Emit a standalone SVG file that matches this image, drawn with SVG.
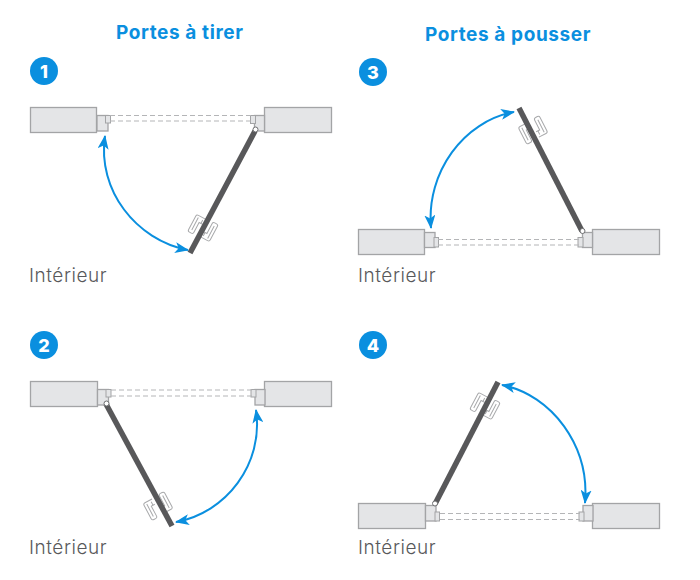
<svg xmlns="http://www.w3.org/2000/svg" xmlns:xlink="http://www.w3.org/1999/xlink" width="700" height="580" viewBox="0 0 700 580">
<style>
.title{font:700 19px Inter,"Liberation Sans",sans-serif;fill:#0a8fdf;letter-spacing:.6px}
.num{font:800 18px Inter,"Liberation Sans",sans-serif;fill:#fff;text-anchor:middle}
.lab{font:300 19px Inter,"Liberation Sans",sans-serif;fill:#58595b;letter-spacing:.55px}
.wall{fill:#e4e5e7;stroke:#a3a4a6;stroke-width:1.3}
.tiny{fill:#e4e5e7;stroke:#a3a4a6;stroke-width:1}
.dash{stroke:#b4b5b7;stroke-width:1;stroke-dasharray:5 3;fill:none}
.door{stroke:#58585a;stroke-width:5.500;fill:none}
.hinge{fill:#fff;stroke:#6d6e70;stroke-width:1}
.handle{fill:none;stroke:#a8a9ab;stroke-width:1}
.arc{fill:none;stroke:#0a8fdf;stroke-width:2;marker-start:url(#ah);marker-end:url(#ah)}
.badge{fill:#0a8fdf}
</style>
<defs>
<marker id="ah" viewBox="0 0 14 11" refX="13" refY="5.500" markerWidth="14" markerHeight="11" markerUnits="userSpaceOnUse" orient="auto-start-reverse"><path d="M0 0L14 5.500L0 11L3.500 5.500Z" fill="#0a8fdf"/></marker>
<g id="hd">
<path class="handle" d="M-2 -9H-10Q-12 -9 -12 -7V8Q-12 10 -10 10H-8Q-6 10 -6 8V-3H-2"/>
<path class="handle" d="M2 9H10Q12 9 12 7V-8Q12 -10 10 -10H8Q6 -10 6 -8V3H2"/>
<path class="handle" d="M-4 -3V-7M4 3V7M-9 -7V7M9 7V-7"/>
</g>
</defs>
<text class="title" x="116" y="39">Portes à tirer</text>
<text class="title" x="425" y="41">Portes à pousser</text>

<g id="panel-1">
<circle class="badge" cx="44" cy="71" r="14"/><text class="num" x="44" y="77.500">1</text>
<rect class="wall" x="30.500" y="107.500" width="66" height="25"/><rect class="wall" x="97" y="115.500" width="11" height="15.500"/><rect class="tiny" x="105.500" y="115.500" width="5" height="7.500"/>
<rect class="wall" x="264.500" y="107.500" width="67" height="25"/><rect class="wall" x="254.500" y="115.500" width="10" height="15.500"/><rect class="tiny" x="250.500" y="115.500" width="5" height="8"/>
<use xlink:href="#hd" href="#hd" transform="translate(203 228) rotate(28)"/>
<path class="door" d="M255 131L190 253"/><circle class="hinge" cx="255.500" cy="129.500" r="2.500"/>
<text class="lab" x="29" y="282">Intérieur</text>
</g>
<g id="panel-2">
<circle class="badge" cx="44" cy="345" r="14"/><text class="num" x="44" y="351.500">2</text>
<rect class="wall" x="30.500" y="381.500" width="67" height="25"/><rect class="wall" x="97.500" y="389.500" width="11" height="15.500"/><rect class="tiny" x="106" y="389.500" width="5" height="7.500"/>
<rect class="wall" x="264.500" y="381.500" width="67" height="25"/><rect class="wall" x="255" y="389.500" width="10" height="15.500"/><rect class="tiny" x="251" y="389.500" width="5" height="7.500"/>
<use xlink:href="#hd" href="#hd" transform="translate(158 506) rotate(-28)"/>
<path class="door" d="M106 404L172 526"/><circle class="hinge" cx="106.500" cy="403.500" r="2.500"/>
<text class="lab" x="29" y="554">Intérieur</text>
</g>
<g id="panel-3">
<circle class="badge" cx="373" cy="72" r="14"/><text class="num" x="373" y="78.500">3</text>
<rect class="wall" x="358.500" y="229.500" width="66" height="25"/><rect class="wall" x="424.500" y="232.500" width="10.500" height="15"/><rect class="tiny" x="434" y="237.500" width="4.500" height="9.500"/>
<rect class="wall" x="592.500" y="229.500" width="67" height="25"/><rect class="wall" x="582.500" y="232.500" width="10" height="15"/><rect class="tiny" x="578" y="237.500" width="5" height="9.500"/>
<use xlink:href="#hd" href="#hd" transform="translate(533 130) rotate(-27)"/>
<path class="door" d="M582 231L519 108"/><circle class="hinge" cx="582.500" cy="231" r="2.500"/>
<text class="lab" x="358" y="282">Intérieur</text>
</g>
<g id="panel-4">
<circle class="badge" cx="373" cy="345" r="14"/><text class="num" x="373" y="351.500">4</text>
<rect class="wall" x="358.500" y="503.500" width="67" height="25"/><rect class="wall" x="425.500" y="505.500" width="10.500" height="15.500"/><rect class="tiny" x="435" y="512" width="4.500" height="9"/>
<rect class="wall" x="592.500" y="503.500" width="67" height="25"/><rect class="wall" x="583" y="505.500" width="10" height="15.500"/><rect class="tiny" x="579" y="512" width="5" height="9"/>
<use xlink:href="#hd" href="#hd" transform="translate(485 406) rotate(28)"/>
<path class="door" d="M435 504L498 382"/><circle class="hinge" cx="435" cy="503.500" r="2.500"/>
<text class="lab" x="358" y="554">Intérieur</text>
</g>
<g id="connectors">
<path class="dash" d="M110 115.500H251M110 121H251"/>
<path class="dash" d="M111 390H252M111 396H252"/>
<path class="dash" d="M438 239.500H579M438 245H579"/>
<path class="dash" d="M440 513.500H580M440 519.500H580"/>
<path class="arc" d="M105 136C97 190 136 240 188 250"/>
<path class="arc" d="M256 410C264 464 226 513 176 522"/>
<path class="arc" d="M431 228C426 172 464 121 514 112"/>
<path class="arc" d="M502 385C552 395 590 446 585 503"/>
</g>
</svg>
